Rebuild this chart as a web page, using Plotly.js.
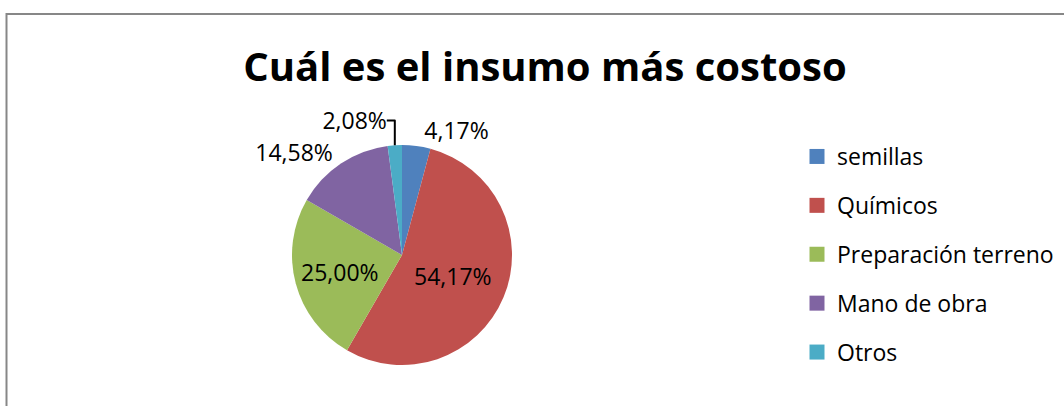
<!DOCTYPE html>
<html><head><meta charset="utf-8">
<script src="https://cdn.plot.ly/plotly-3.0.1.min.js"></script>
<style>html,body{margin:0;padding:0;background:#fff}#chart{width:1064px;height:406px}</style>
</head><body><div id="chart"></div>
<script>
const categories = ["semillas", "Químicos", "Preparación terreno", "Mano de obra", "Otros"];
const counts = [2, 26, 12, 7, 1];
const colors = ["#4F81BD", "#C0504D", "#9BBB59", "#8064A2", "#4BACC6"];
const labelPositions = ["outside", "inside", "inside", "outside", "outside"];

const FONT = "Open Sans, Liberation Sans, sans-serif";

const pie = {
  type: "pie",
  labels: categories,
  values: counts,
  sort: false,
  direction: "clockwise",
  rotation: 0,
  marker: {colors: colors, line: {width: 0}},
  texttemplate: "%{percent:.2%}",
  textposition: labelPositions,
  insidetextorientation: "horizontal",
  textfont: {family: FONT, size: 23, color: "#000"},
  outsidetextfont: {family: FONT, size: 23, color: "#000"},
  insidetextfont: {family: FONT, size: 23, color: "#000"},
  showlegend: false,
  domain: {x: [292/1064, 512/1064], y: [41/406, 261/406]},
  automargin: false,
  hoverinfo: "label+percent"
};

const legendTraces = categories.map((c, i) => ({
  type: "scatter", mode: "markers", x: [null], y: [null],
  name: c, legendgroup: "g" + i,
  marker: {symbol: "square", size: 15, color: colors[i]},
  showlegend: true, hoverinfo: "skip"
}));

const layout = {
  width: 1064, height: 406,
  margin: {l: 0, r: 0, t: 0, b: 0},
  paper_bgcolor: "#fff", plot_bgcolor: "#fff",
  separators: ",.",
  title: {
    text: "<b>Cuál es el insumo más costoso</b>",
    font: {family: FONT, size: 40, color: "#000"},
    x: 545/1064, xanchor: "center", xref: "container",
    y: 1 - 67/406, yanchor: "middle", yref: "container"
  },
  xaxis: {visible: false, domain: [0.99, 1]},
  yaxis: {visible: false, domain: [0.99, 1]},
  legend: {
    x: 797/1064, xanchor: "left", y: 1 - 135/406, yanchor: "top",
    font: {family: FONT, size: 23, color: "#000"},
    tracegroupgap: 16, itemwidth: 30, bgcolor: "rgba(0,0,0,0)"
  },
  shapes: [{
    type: "rect", xref: "paper", yref: "paper",
    x0: 6.5/1064, x1: 1.05, y0: -0.05, y1: 1 - 14/406,
    line: {color: "#878787", width: 2}, fillcolor: "rgba(0,0,0,0)", layer: "below"
  }]
};

Plotly.newPlot("chart", [pie].concat(legendTraces), layout, {displayModeBar: false, staticPlot: true});
</script>
</body></html>
